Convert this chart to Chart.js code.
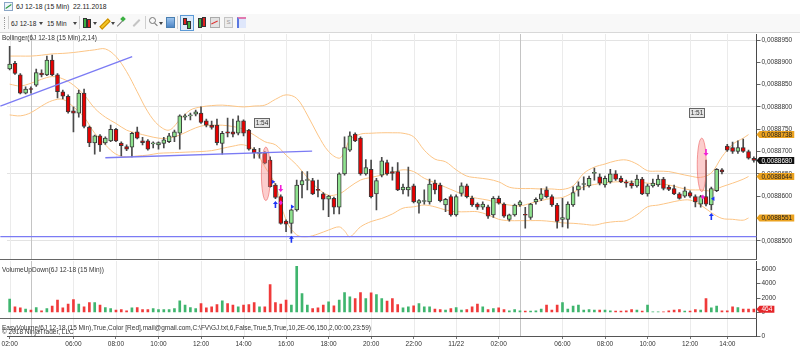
<!DOCTYPE html>
<html>
<head>
<meta charset="utf-8">
<title>6J 12-18 (15 Min)</title>
<script src="https://cdn.jsdelivr.net/npm/chart.js@4/dist/chart.umd.min.js"></script>
<style>
  body { margin: 0; width: 800px; height: 354px; overflow: hidden; background: #fff; position: relative;
         font-family: "Liberation Sans", Arial, sans-serif; color: #222; }
  .a { position: absolute; }
  canvas { position: absolute; left: 0; }
  .dd { position: absolute; top: 8px; width: 0; height: 0; border-left: 2px solid transparent;
        border-right: 2px solid transparent; border-top: 3px solid #444; }
  .sep { position: absolute; top: 2px; width: 1px; height: 13px; background: #cfcfcf; }
  .bar { position: absolute; border: 1px solid #333; }
</style>
</head>
<body>

<!-- title row -->
<div class="a" style="left:0;top:0;width:800px;height:13px;">
  <div class="a" style="left:4px;top:2px;width:7px;height:7px;background:#eef4fb;border:1px solid #8aa6c6"></div>
  <div class="a" style="left:5px;top:6px;width:7px;height:1px;background:#2c9a3c;transform:rotate(-35deg)"></div>
  <div class="a" style="left:16px;top:2px;font-size:6.8px;line-height:9px">6J 12-18 (15 Min)&nbsp; 22.11.2018</div>
</div>

<!-- toolbar -->
<div class="a" style="left:0;top:14px;width:800px;height:18px;background:#f8f8f8;border-bottom:1px solid #d8d8d8">
  <div class="a" style="left:4px;top:3px;height:12px;border-left:1px dotted #999"></div>
  <div class="sep" style="left:8px"></div>
  <div class="a" style="left:11px;top:5px;font-size:6.5px;line-height:9px">6J 12-18</div>
  <div class="dd" style="left:39px"></div>
  <div class="a" style="left:47px;top:5px;font-size:6.5px;line-height:9px">15 Min</div>
  <div class="dd" style="left:73px"></div>
  <div class="sep" style="left:79px"></div>
  <div class="bar" style="left:83px;top:4px;width:2px;height:8px;background:#3cb043"></div>
  <div class="bar" style="left:87px;top:5px;width:2px;height:7px;background:#e02020"></div>
  <div class="dd" style="left:93px"></div>
  <div class="a" style="left:99px;top:8px;width:10px;height:2px;background:#f3c623;border:1px solid #c98a00;transform:rotate(-45deg)"></div>
  <div class="dd" style="left:111px"></div>
  <div class="a" style="left:116px;top:9px;width:8px;height:1px;background:#777;transform:rotate(-45deg)"></div>
  <div class="a" style="left:121px;top:3px;width:4px;height:4px;background:#3cb043;transform:rotate(45deg)"></div>
  <div class="a" style="left:132px;top:8px;width:9px;height:2px;background:#c4c4c4;transform:rotate(-45deg)"></div>
  <div class="sep" style="left:145px"></div>
  <div class="a" style="left:149px;top:3px;width:5px;height:5px;border:1px solid #777;border-radius:50%"></div>
  <div class="a" style="left:154px;top:10px;width:4px;height:1px;background:#777;transform:rotate(45deg)"></div>
  <div class="dd" style="left:159px"></div>
  <div class="a" style="left:166px;top:3px;width:7px;height:9px;background:linear-gradient(#9cc4ee,#4f86c6);border:1px solid #4a7fb0"></div>
  <div class="sep" style="left:177px"></div>
  <div class="a" style="left:180px;top:1px;width:12px;height:14px;background:#dcebfb;border:1px solid #5c9ad6"></div>
  <div class="bar" style="left:183px;top:4px;width:2px;height:5px;background:#e02020"></div>
  <div class="bar" style="left:187px;top:7px;width:2px;height:6px;background:#3cb043"></div>
  <div class="bar" style="left:198px;top:4px;width:2px;height:8px;background:#3cb043"></div>
  <div class="bar" style="left:202px;top:3px;width:2px;height:8px;background:#e02020"></div>
  <div class="a" style="left:210px;top:3px;width:8px;height:9px;background:#e2e2e2;border:1px solid #aaa"></div>
  <div class="a" style="left:211px;top:8px;width:7px;height:1px;background:#d33;transform:rotate(-25deg)"></div>
  <div class="a" style="left:224px;top:3px;width:7px;height:9px;background:#ececec;border:1px solid #c4c4c4;font-size:6px;line-height:9px;text-align:center;color:#999">S</div>
  <div class="a" style="left:237px;top:3px;width:7px;height:9px;background:#dfe7fb;border-left:2px solid #5a78e0;border-top:2px solid #e07ab0"></div>
</div>

<canvas id="cPrice" width="800" height="227" style="top:33px"></canvas>
<canvas id="cVol" width="800" height="58" style="top:260px"></canvas>
<canvas id="cEasy" width="800" height="36" style="top:318px"></canvas>
<div class="a" style="left:0;top:259px;width:757px;height:1px;background:#666"></div>
<div class="a" style="left:0;top:318px;width:757px;height:1px;background:#666"></div>

<script>
// ---------- data ----------
const opens = [0.0088885,0.0088898,0.0088872,0.0088831,0.0088840,0.0088849,0.0088876,0.0088872,0.0088905,0.0088872,
  0.0088834,0.0088824,0.0088791,0.0088786,0.0088831,0.0088755,0.0088719,0.0088735,0.0088719,0.0088724,
  0.0088750,0.0088719,0.0088711,0.0088710,0.0088744,0.0088724,0.0088724,0.0088717,0.0088715,0.0088718,
  0.0088722,0.0088733,0.0088741,0.0088777,0.0088780,0.0088784,0.0088786,0.0088769,0.0088759,0.0088759,
  0.0088718,0.0088744,0.0088744,0.0088741,0.0088769,0.0088748,0.0088705,0.0088696,0.0088696,0.0088681,
  0.0088625,0.0088599,0.0088544,0.0088539,0.0088569,0.0088625,0.0088635,0.0088635,0.0088614,0.0088605,
  0.0088593,0.0088595,0.0088575,0.0088650,0.0088703,0.0088739,0.0088730,0.0088650,0.0088660,0.0088605,
  0.0088647,0.0088675,0.0088655,0.0088655,0.0088614,0.0088614,0.0088623,0.0088584,0.0088588,0.0088587,
  0.0088629,0.0088625,0.0088580,0.0088599,0.0088558,0.0088606,0.0088623,0.0088595,0.0088582,0.0088575,
  0.0088576,0.0088558,0.0088595,0.0088582,0.0088548,0.0088558,0.0088580,0.0088558,0.0088552,0.0088587,
  0.0088593,0.0088614,0.0088599,0.0088580,0.0088548,0.0088548,0.0088580,0.0088614,0.0088626,0.0088623,
  0.0088651,0.0088643,0.0088625,0.0088632,0.0088650,0.0088640,0.0088630,0.0088629,0.0088623,0.0088638,
  0.0088605,0.0088623,0.0088625,0.0088638,0.0088620,0.0088617,0.0088605,0.0088600,0.0088608,0.0088599,
  0.0088582,0.0088599,0.0088580,0.0088612,0.0088659,0.0088712,0.0088709,0.0088700,0.0088709,0.0088700,
  0.0088685];
const highs = [0.0088936,0.0088902,0.0088875,0.0088845,0.0088845,0.0088885,0.0088883,0.0088914,0.0088916,0.0088875,
  0.0088838,0.0088827,0.0088800,0.0088838,0.0088840,0.0088757,0.0088737,0.0088738,0.0088733,0.0088759,
  0.0088752,0.0088722,0.0088715,0.0088743,0.0088755,0.0088732,0.0088727,0.0088722,0.0088722,0.0088732,
  0.0088741,0.0088748,0.0088782,0.0088784,0.0088786,0.0088793,0.0088800,0.0088773,0.0088768,0.0088773,
  0.0088745,0.0088775,0.0088773,0.0088780,0.0088771,0.0088750,0.0088709,0.0088707,0.0088700,0.0088688,
  0.0088628,0.0088603,0.0088547,0.0088571,0.0088636,0.0088655,0.0088655,0.0088640,0.0088636,0.0088608,
  0.0088602,0.0088598,0.0088652,0.0088733,0.0088744,0.0088742,0.0088733,0.0088682,0.0088681,0.0088640,
  0.0088687,0.0088681,0.0088665,0.0088675,0.0088627,0.0088665,0.0088627,0.0088592,0.0088614,0.0088638,
  0.0088636,0.0088629,0.0088595,0.0088603,0.0088603,0.0088630,0.0088627,0.0088600,0.0088585,0.0088587,
  0.0088580,0.0088599,0.0088600,0.0088585,0.0088560,0.0088582,0.0088590,0.0088575,0.0088584,0.0088596,
  0.0088617,0.0088621,0.0088603,0.0088584,0.0088595,0.0088587,0.0088621,0.0088632,0.0088643,0.0088645,
  0.0088663,0.0088650,0.0088645,0.0088660,0.0088657,0.0088645,0.0088636,0.0088634,0.0088647,0.0088642,
  0.0088627,0.0088638,0.0088647,0.0088642,0.0088624,0.0088625,0.0088608,0.0088620,0.0088612,0.0088603,
  0.0088602,0.0088681,0.0088620,0.0088662,0.0088662,0.0088716,0.0088721,0.0088724,0.0088728,0.0088703,
  0.0088688];
const lows = [0.0088883,0.0088873,0.0088829,0.0088829,0.0088831,0.0088846,0.0088867,0.0088870,0.0088870,0.0088820,
  0.0088818,0.0088786,0.0088744,0.0088777,0.0088753,0.0088711,0.0088694,0.0088700,0.0088716,0.0088722,
  0.0088722,0.0088690,0.0088702,0.0088688,0.0088728,0.0088715,0.0088703,0.0088708,0.0088705,0.0088708,
  0.0088720,0.0088722,0.0088705,0.0088771,0.0088771,0.0088780,0.0088763,0.0088755,0.0088750,0.0088715,
  0.0088694,0.0088733,0.0088733,0.0088737,0.0088735,0.0088703,0.0088685,0.0088685,0.0088672,0.0088620,
  0.0088594,0.0088537,0.0088520,0.0088517,0.0088566,0.0088596,0.0088614,0.0088603,0.0088598,0.0088569,
  0.0088554,0.0088560,0.0088560,0.0088647,0.0088700,0.0088722,0.0088647,0.0088647,0.0088596,0.0088569,
  0.0088643,0.0088647,0.0088636,0.0088612,0.0088605,0.0088600,0.0088585,0.0088562,0.0088582,0.0088582,
  0.0088605,0.0088587,0.0088565,0.0088555,0.0088555,0.0088600,0.0088596,0.0088577,0.0088570,0.0088570,
  0.0088550,0.0088552,0.0088582,0.0088552,0.0088544,0.0088555,0.0088577,0.0088528,0.0088548,0.0088582,
  0.0088590,0.0088596,0.0088577,0.0088528,0.0088531,0.0088528,0.0088577,0.0088600,0.0088614,0.0088620,
  0.0088636,0.0088625,0.0088620,0.0088629,0.0088635,0.0088630,0.0088620,0.0088618,0.0088620,0.0088603,
  0.0088600,0.0088620,0.0088622,0.0088614,0.0088612,0.0088603,0.0088593,0.0088597,0.0088597,0.0088576,
  0.0088575,0.0088578,0.0088569,0.0088610,0.0088650,0.0088700,0.0088696,0.0088696,0.0088698,0.0088683,
  0.0088676];
const closes = [0.0088896,0.0088875,0.0088831,0.0088840,0.0088839,0.0088877,0.0088872,0.0088905,0.0088872,0.0088834,
  0.0088824,0.0088789,0.0088786,0.0088831,0.0088756,0.0088719,0.0088735,0.0088715,0.0088730,0.0088750,
  0.0088724,0.0088713,0.0088705,0.0088741,0.0088730,0.0088720,0.0088705,0.0088717,0.0088720,0.0088726,
  0.0088735,0.0088744,0.0088780,0.0088780,0.0088780,0.0088789,0.0088765,0.0088759,0.0088754,0.0088720,
  0.0088741,0.0088741,0.0088739,0.0088769,0.0088741,0.0088705,0.0088697,0.0088696,0.0088674,0.0088621,
  0.0088597,0.0088539,0.0088537,0.0088569,0.0088625,0.0088635,0.0088636,0.0088605,0.0088613,0.0088593,
  0.0088600,0.0088575,0.0088650,0.0088709,0.0088735,0.0088724,0.0088650,0.0088664,0.0088599,0.0088635,
  0.0088679,0.0088650,0.0088651,0.0088614,0.0088620,0.0088620,0.0088587,0.0088590,0.0088590,0.0088627,
  0.0088614,0.0088590,0.0088593,0.0088558,0.0088599,0.0088623,0.0088599,0.0088580,0.0088575,0.0088582,
  0.0088555,0.0088595,0.0088584,0.0088555,0.0088558,0.0088580,0.0088587,0.0088557,0.0088582,0.0088593,
  0.0088605,0.0088599,0.0088580,0.0088543,0.0088552,0.0088582,0.0088608,0.0088623,0.0088627,0.0088640,
  0.0088652,0.0088629,0.0088640,0.0088650,0.0088638,0.0088632,0.0088629,0.0088623,0.0088638,0.0088605,
  0.0088623,0.0088629,0.0088638,0.0088617,0.0088615,0.0088605,0.0088595,0.0088612,0.0088600,0.0088587,
  0.0088599,0.0088582,0.0088617,0.0088660,0.0088654,0.0088703,0.0088700,0.0088709,0.0088700,0.0088685,
  0.0088680];
const volumes = [1850,790,650,460,320,690,230,560,880,1710,
  650,1160,1800,1160,790,1390,1390,1020,690,560,
  320,420,230,650,690,420,420,560,420,420,
  420,560,1620,1020,690,560,1250,650,790,1110,
  1620,1250,1020,790,1020,1110,1390,790,790,3890,
  1390,1160,1710,1020,6430,2640,1020,560,650,1020,
  1480,930,1710,2780,2180,1940,2780,1940,2730,2500,
  1940,1570,1940,1110,650,790,930,1250,790,790,
  460,420,320,560,690,320,420,790,1160,790,
  420,560,650,420,230,420,230,190,190,230,
  460,1020,320,1020,1390,460,880,1020,320,420,
  320,320,320,230,190,190,230,420,320,190,
  1020,100,100,100,230,320,420,190,190,420,
  320,1940,650,880,230,230,790,690,460,460,
  464];

// Bollinger(2,14) read at these bar numbers
const bbIdx = [0,2,4,6,8,10,12,14,16,18,20,22,24,26,28,30,32,34,36,38,40,42,44,46,48,50,52,54,56,58,60,62,63,
  64,66,68,70,72,74,76,78,80,82,84,86,88,90,92,94,96,98,100,102,104,106,108,110,112,114,116,118,120,122,124,
  126,128,130,132,134,136,138,139];
const bbUpper = [0.0088914,0.0088914,0.0088914,0.0088916,0.0088919,0.0088920,0.0088922,0.0088925,0.0088928,0.0088930,
  0.0088913,0.0088879,0.0088834,0.0088789,0.0088759,0.0088748,0.0088771,0.0088793,0.0088800,0.0088803,
  0.0088804,0.0088802,0.0088800,0.0088802,0.0088804,0.0088817,0.0088827,0.0088819,0.0088782,0.0088737,
  0.0088700,0.0088685,0.0088700,0.0088726,0.0088739,0.0088741,0.0088742,0.0088742,0.0088741,0.0088733,
  0.0088703,0.0088683,0.0088677,0.0088659,0.0088645,0.0088641,0.0088638,0.0088632,0.0088620,0.0088617,
  0.0088617,0.0088616,0.0088616,0.0088615,0.0088623,0.0088651,0.0088665,0.0088672,0.0088679,0.0088681,
  0.0088672,0.0088657,0.0088656,0.0088655,0.0088650,0.0088645,0.0088642,0.0088652,0.0088688,0.0088716,
  0.0088730,0.0088738];
const bbMid = [0.0088851,0.0088847,0.0088853,0.0088862,0.0088868,0.0088863,0.0088849,0.0088827,0.0088797,0.0088777,
  0.0088763,0.0088748,0.0088741,0.0088735,0.0088730,0.0088730,0.0088737,0.0088748,0.0088757,0.0088759,
  0.0088759,0.0088756,0.0088750,0.0088737,0.0088722,0.0088715,0.0088692,0.0088670,0.0088642,0.0088617,
  0.0088602,0.0088605,0.0088612,0.0088621,0.0088636,0.0088642,0.0088647,0.0088653,0.0088659,0.0088655,
  0.0088640,0.0088630,0.0088620,0.0088610,0.0088600,0.0088595,0.0088591,0.0088584,0.0088580,0.0088578,
  0.0088584,0.0088590,0.0088595,0.0088597,0.0088608,0.0088621,0.0088626,0.0088630,0.0088632,0.0088632,
  0.0088632,0.0088629,0.0088627,0.0088625,0.0088619,0.0088614,0.0088614,0.0088612,0.0088621,0.0088629,
  0.0088638,0.0088644];
const bbLower = [0.0088782,0.0088780,0.0088787,0.0088802,0.0088814,0.0088817,0.0088800,0.0088777,0.0088741,0.0088715,
  0.0088694,0.0088688,0.0088690,0.0088692,0.0088696,0.0088697,0.0088698,0.0088699,0.0088700,0.0088702,
  0.0088707,0.0088712,0.0088715,0.0088703,0.0088666,0.0088625,0.0088546,0.0088513,0.0088509,0.0088515,
  0.0088524,0.0088531,0.0088522,0.0088509,0.0088531,0.0088543,0.0088550,0.0088560,0.0088573,0.0088576,
  0.0088580,0.0088576,0.0088569,0.0088565,0.0088565,0.0088565,0.0088558,0.0088548,0.0088545,0.0088545,
  0.0088545,0.0088545,0.0088543,0.0088540,0.0088539,0.0088537,0.0088535,0.0088540,0.0088543,0.0088545,
  0.0088558,0.0088576,0.0088580,0.0088585,0.0088590,0.0088591,0.0088580,0.0088563,0.0088550,0.0088548,
  0.0088546,0.0088551];

// time axis
const tickIdx = [0,12,20,28,36,44,52,60,68,76,84,92,104,112,120,128,135];
const tickText = ['02:00','06:00','08:00','10:00','12:00','14:00','16:00','18:00','20:00','22:00','11/22',
  '02:00','06:00','08:00','10:00','12:00','14:00'];
const sessIdx = [4, 96];
const priceTicks = [0.0088500,0.0088550,0.0088600,0.0088650,0.0088700,0.0088750,0.0088800,0.0088850,0.0088900,0.0088950];
const volTicks = [0, 2000, 4000, 6000];

// drawing objects (bar number, price)
const trendLines = [
  { x1: -1.75, y1: 0.0088802, x2: 23.05, y2: 0.0088913 },
  { x1: 18, y1: 0.0088686, x2: 56.9, y2: 0.0088701 },
  { x1: -1.75, y1: 0.0088509, x2: 140.5, y2: 0.0088509 }
];
const ellipses = [
  { x: 48.2, hi: 0.0088710, lo: 0.0088590 },
  { x: 130.2, hi: 0.0088730, lo: 0.0088610 }
];
const upArrows = [{ x: 50, y: 0.0088589 }, { x: 53, y: 0.0088511 }, { x: 132, y: 0.0088562 }];
const downArrows = [{ x: 51, y: 0.0088609 }, { x: 131, y: 0.0088690 }];
const blueTris = [{ x: 49.6, y: 0.0088632, d: 1 }, { x: 53.2, y: 0.0088576, d: 1 }, { x: 132.3, y: 0.0088594, d: -1 }];
const pinkDots = [{ x: 51, y: 0.0088585 }, { x: 130.4, y: 0.0088598 }];
const noteBoxes = [{ x: 47.5, y: 0.0088765, t: '1:54' }, { x: 129.4, y: 0.0088786, t: '1:51' }];

// ---------- helpers ----------
const FONT = '"Liberation Sans", Arial, sans-serif';
const idx = opens.map((_, i) => i);
const isUp = i => closes[i] >= opens[i];
const fmtPrice = v => v.toFixed(7).replace('.', ',');

Chart.defaults.font.family = FONT;
Chart.defaults.font.size = 6.5;
Chart.defaults.color = '#333';
Chart.defaults.animation = false;
Chart.defaults.events = [];
Chart.defaults.plugins.legend.display = false;
Chart.defaults.plugins.tooltip.enabled = false;

function noPad(s) {
  s.paddingTop = 0; s.paddingBottom = 0; s.paddingLeft = 0; s.paddingRight = 0;
}

function xAxis(show) {
  return {
    type: 'linear', min: -0.5, max: 140.5, offset: false, display: show,
    afterBuildTicks: s => { s.ticks = tickIdx.map(v => ({ value: v })); },
    afterFit: s => { s.height = show ? 18 : 0; noPad(s); },
    ticks: { autoSkip: false, maxRotation: 0, padding: 1, color: '#333',
             callback: v => tickText[tickIdx.indexOf(v)] },
    grid: { drawOnChartArea: false, offset: false, tickLength: 3, tickColor: '#777' },
    border: { color: '#555' }
  };
}

function yAxis(min, max, ticks, fmt, gridColor) {
  return {
    position: 'right', min: min, max: max,
    afterBuildTicks: s => { s.ticks = ticks.map(v => ({ value: v })); },
    afterFit: s => { s.width = 43.5; noPad(s); },
    ticks: { callback: fmt, padding: 1, color: '#333', autoSkip: false },
    grid: { color: gridColor || 'rgba(0,0,0,0)', tickColor: '#666', tickLength: 4 },
    border: { color: '#4a4a4a' }
  };
}

// light time grid + session breaks
const vgrid = {
  id: 'vgrid',
  beforeDatasetsDraw(chart) {
    const { ctx, chartArea: a, scales: { x } } = chart;
    ctx.save();
    ctx.lineWidth = 1;
    const line = (v, c) => {
      const px = Math.round(x.getPixelForValue(v)) + 0.5;
      ctx.strokeStyle = c;
      ctx.beginPath(); ctx.moveTo(px, a.top); ctx.lineTo(px, a.bottom); ctx.stroke();
    };
    tickIdx.forEach(v => line(v, '#ebebeb'));
    sessIdx.forEach(v => line(v, '#c4c4c4'));
    ctx.restore();
  }
};

// panel captions
const captions = {
  id: 'captions',
  afterDraw(chart, args, opts) {
    const ctx = chart.ctx;
    ctx.save();
    ctx.font = '6.5px ' + FONT;
    ctx.fillStyle = '#333';
    ctx.textBaseline = 'middle';
    (opts.lines || []).forEach(l => ctx.fillText(l.t, 2, l.y));
    ctx.restore();
  }
};

function tag(ctx, x, y, text, bg, fg) {
  ctx.font = '6.5px ' + FONT;
  const w = ctx.measureText(text).width + 4;
  ctx.beginPath();
  ctx.moveTo(x, y);
  ctx.lineTo(x + 3, y - 3.5);
  ctx.lineTo(x + 3 + w, y - 3.5);
  ctx.lineTo(x + 3 + w, y + 3.5);
  ctx.lineTo(x + 3, y + 3.5);
  ctx.closePath();
  ctx.fillStyle = bg;
  ctx.fill();
  ctx.fillStyle = fg;
  ctx.textBaseline = 'middle';
  ctx.fillText(text, x + 5, y + 0.5);
}

function arrow(ctx, px, py, dir, color) {
  // dir 1: tip at top pointing up, -1: tip at bottom pointing down
  ctx.fillStyle = color;
  ctx.beginPath();
  ctx.moveTo(px, py);
  ctx.lineTo(px - 2.5, py + 3 * dir);
  ctx.lineTo(px - 0.8, py + 3 * dir);
  ctx.lineTo(px - 0.8, py + 7 * dir);
  ctx.lineTo(px + 0.8, py + 7 * dir);
  ctx.lineTo(px + 0.8, py + 3 * dir);
  ctx.lineTo(px + 2.5, py + 3 * dir);
  ctx.closePath();
  ctx.fill();
}

const drawings = {
  id: 'drawings',
  afterDatasetsDraw(chart) {
    const { ctx, scales: { x, y } } = chart;
    const X = v => x.getPixelForValue(v), Y = v => y.getPixelForValue(v);
    ctx.save();
    ellipses.forEach(e => {
      const cy = (Y(e.hi) + Y(e.lo)) / 2, ry = (Y(e.lo) - Y(e.hi)) / 2;
      ctx.beginPath();
      ctx.ellipse(X(e.x), cy, 4.5, ry, 0, 0, Math.PI * 2);
      ctx.fillStyle = 'rgba(248,130,130,0.4)';
      ctx.fill();
      ctx.strokeStyle = 'rgba(235,95,95,0.6)';
      ctx.lineWidth = 1;
      ctx.stroke();
    });
    ctx.strokeStyle = '#7b7bf4';
    ctx.lineWidth = 1.3;
    trendLines.forEach(l => {
      ctx.beginPath(); ctx.moveTo(X(l.x1), Y(l.y1)); ctx.lineTo(X(l.x2), Y(l.y2)); ctx.stroke();
    });
    upArrows.forEach(p => arrow(ctx, X(p.x), Y(p.y), 1, '#1c35f5'));
    downArrows.forEach(p => arrow(ctx, X(p.x), Y(p.y), -1, '#f21fd8'));
    blueTris.forEach(p => {
      const px = X(p.x), py = Y(p.y);
      ctx.fillStyle = '#1c35f5';
      ctx.beginPath(); ctx.moveTo(px + 2 * p.d, py); ctx.lineTo(px - 1.5 * p.d, py - 2.2); ctx.lineTo(px - 1.5 * p.d, py + 2.2);
      ctx.closePath(); ctx.fill();
    });
    pinkDots.forEach(p => {
      const px = X(p.x), py = Y(p.y);
      ctx.fillStyle = '#f21fd8';
      ctx.beginPath(); ctx.moveTo(px, py - 2.5); ctx.lineTo(px + 2, py); ctx.lineTo(px, py + 2.5); ctx.lineTo(px - 2, py);
      ctx.closePath(); ctx.fill();
    });
    ctx.font = '6.5px ' + FONT;
    ctx.textAlign = 'center';
    ctx.textBaseline = 'middle';
    noteBoxes.forEach(n => {
      const px = Math.round(X(n.x)), py = Math.round(Y(n.y));
      ctx.fillStyle = '#e4e4e4';
      ctx.fillRect(px - 7.5, py - 4.5, 15, 9);
      ctx.strokeStyle = '#666';
      ctx.lineWidth = 1;
      ctx.strokeRect(px - 7.5, py - 4.5, 15, 9);
      ctx.fillStyle = '#333';
      ctx.fillText(n.t, px, py + 0.5);
    });
    ctx.restore();
  }
};

const priceTags = {
  id: 'priceTags',
  afterDraw(chart) {
    const { ctx, chartArea: a, scales: { y } } = chart;
    const k = bbIdx.length - 1;
    ctx.save();
    [[bbUpper[k], '#eba21f', '#222'], [bbMid[k], '#eba21f', '#222'], [bbLower[k], '#eba21f', '#222'],
     [closes[closes.length - 1], '#111', '#fff']]
      .forEach(([v, bg, fg]) => tag(ctx, a.right, y.getPixelForValue(v), fmtPrice(v), bg, fg));
    ctx.restore();
  }
};

const volTag = {
  id: 'volTag',
  afterDraw(chart) {
    const { ctx, chartArea: a, scales: { y } } = chart;
    const v = volumes[volumes.length - 1];
    ctx.save();
    tag(ctx, a.right, y.getPixelForValue(v), String(v), isUp(volumes.length - 1) ? '#3aa860' : '#e5262a', '#fff');
    ctx.restore();
  }
};

// ---------- price panel ----------
const band = (vals, order) => ({
  type: 'line', order: order, data: bbIdx.map((x, k) => ({ x: x, y: vals[k] })),
  borderColor: '#fcc586', borderWidth: 1, pointRadius: 0, tension: 0.35
});

new Chart(document.getElementById('cPrice'), {
  type: 'bar',
  data: {
    datasets: [
      band(bbUpper, 3), band(bbMid, 3), band(bbLower, 3),
      {
        label: 'wick', order: 2, grouped: false,
        data: idx.map(i => ({ x: i, y: [lows[i], highs[i]] })),
        barThickness: 1, backgroundColor: '#4a4a4a', borderWidth: 0
      },
      {
        label: 'body', order: 1, grouped: false,
        data: idx.map(i => ({ x: i, y: [opens[i], closes[i]] })),
        barThickness: 4, minBarLength: 1,
        backgroundColor: c => isUp(c.dataIndex) ? '#8ee28e' : '#e60000',
        borderColor: '#3a3a3a', borderWidth: 1, borderSkipped: false
      }
    ]
  },
  options: {
    responsive: false,
    layout: { padding: { left: 7, right: 0, top: 1, bottom: 1 } },
    scales: {
      x: xAxis(false),
      y: yAxis(0.0088459, 0.00889635, priceTicks, v => fmtPrice(v),
               c => (c.index % 3 === 0 ? '#e3e3e3' : 'rgba(0,0,0,0)'))
    },
    plugins: { captions: { lines: [{ t: 'Bollinger(6J 12-18 (15 Min),2,14)', y: 5 }] } }
  },
  plugins: [vgrid, drawings, captions, priceTags]
});

// ---------- volume panel ----------
new Chart(document.getElementById('cVol'), {
  type: 'bar',
  data: {
    datasets: [{
      label: 'volume', grouped: false,
      data: idx.map(i => ({ x: i, y: volumes[i] })),
      barThickness: 2,
      backgroundColor: c => isUp(c.dataIndex) ? '#3fb56e' : '#f03a3a'
    }]
  },
  options: {
    responsive: false,
    layout: { padding: { left: 7, right: 0, top: 1, bottom: 0 } },
    scales: {
      x: xAxis(false),
      y: yAxis(-764, 7153, volTicks, v => String(v))
    },
    plugins: { captions: { lines: [{ t: 'VolumeUpDown(6J 12-18 (15 Min))', y: 10 }] } }
  },
  plugins: [vgrid, captions, volTag]
});

// ---------- EasyVolume panel + time axis ----------
new Chart(document.getElementById('cEasy'), {
  type: 'bar',
  data: { datasets: [{ label: 'easy', data: [] }] },
  options: {
    responsive: false,
    layout: { padding: { left: 7, right: 0, top: 1, bottom: 0 } },
    scales: {
      x: xAxis(true),
      y: yAxis(0, 1, [0], v => String(v))
    },
    plugins: { captions: { lines: [
      { t: 'EasyVolume(6J 12-18 (15 Min),True,Color [Red],mail@gmail.com,C:\\FV\\GJ.txt,6,False,True,5,True,10,2E-06,150,2,00:00,23:59)', y: 10 },
      { t: '\u00a9 2018 NinjaTrader, LLC', y: 14.5 }
    ] } }
  },
  plugins: [vgrid, captions]
});
</script>
</body>
</html>
